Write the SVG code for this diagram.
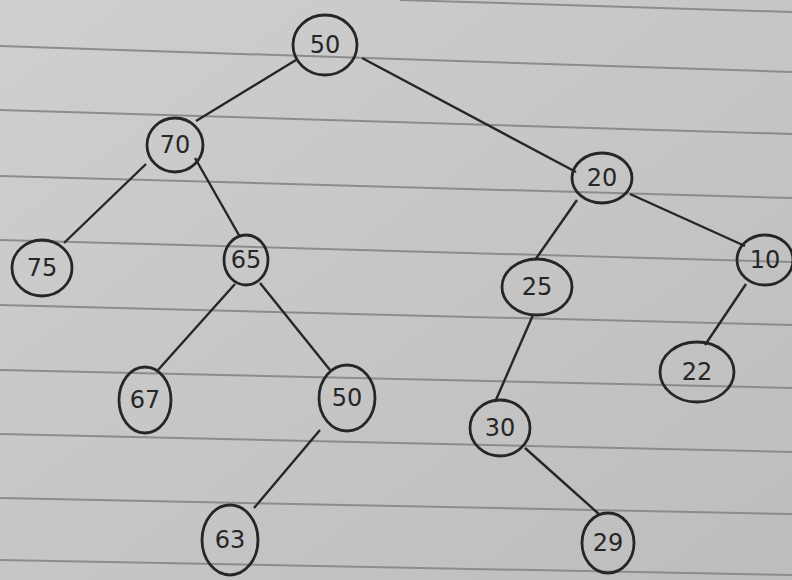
<svg xmlns="http://www.w3.org/2000/svg" width="792" height="580" viewBox="0 0 792 580">
<defs>
<linearGradient id="paper" x1="0" y1="0" x2="1" y2="1">
<stop offset="0" stop-color="#cfcfcf"/>
<stop offset="0.5" stop-color="#c6c6c6"/>
<stop offset="1" stop-color="#bdbdbd"/>
</linearGradient>
</defs>
<style>
.rule{stroke:#8c8c8c;stroke-width:2;fill:none}
.node ellipse{fill:none;stroke:#262626;stroke-width:2.8}
.node text{font-family:"DejaVu Sans",sans-serif;font-size:24px;fill:#262626;text-anchor:middle;dominant-baseline:central}
#edges line{stroke:#262626;stroke-width:2.4}
</style>
<rect width="792" height="580" fill="url(#paper)"/>
<g id="paper-lines">
<line class="rule" x1="400" y1="0" x2="792" y2="12"/>
<line class="rule" x1="0" y1="46" x2="792" y2="72"/>
<line class="rule" x1="0" y1="110" x2="792" y2="134"/>
<line class="rule" x1="0" y1="176" x2="792" y2="198"/>
<line class="rule" x1="0" y1="240" x2="792" y2="262"/>
<line class="rule" x1="0" y1="305" x2="792" y2="325"/>
<line class="rule" x1="0" y1="370" x2="792" y2="388"/>
<line class="rule" x1="0" y1="434" x2="792" y2="452"/>
<line class="rule" x1="0" y1="498" x2="792" y2="514"/>
<line class="rule" x1="0" y1="560" x2="792" y2="575"/>
</g>
<g id="edges">
<line x1="296" y1="60" x2="196" y2="121"/>
<line x1="362" y1="58" x2="576" y2="172"/>
<line x1="146" y1="164" x2="64" y2="243"/>
<line x1="195" y1="158" x2="240" y2="237"/>
<line x1="235" y1="284" x2="158" y2="370"/>
<line x1="260" y1="283" x2="330" y2="370"/>
<line x1="320" y1="430" x2="254" y2="508"/>
<line x1="577" y1="200" x2="535" y2="260"/>
<line x1="630" y1="194" x2="745" y2="246"/>
<line x1="746" y1="284" x2="705" y2="345"/>
<line x1="533" y1="315" x2="495" y2="402"/>
<line x1="525" y1="448" x2="600" y2="515"/>
</g>
<g id="n50" class="node"><ellipse cx="325" cy="45" rx="32" ry="30"/><text x="325" y="45">50</text></g>
<g id="n70" class="node"><ellipse cx="175" cy="145" rx="28" ry="27"/><text x="175" y="145">70</text></g>
<g id="n75" class="node"><ellipse cx="42" cy="268" rx="30" ry="28"/><text x="42" y="268">75</text></g>
<g id="n65" class="node"><ellipse cx="246" cy="260" rx="22" ry="25"/><text x="246" y="260">65</text></g>
<g id="n67" class="node"><ellipse cx="145" cy="400" rx="26" ry="33"/><text x="145" y="400">67</text></g>
<g id="n50b" class="node"><ellipse cx="347" cy="398" rx="28" ry="33"/><text x="347" y="398">50</text></g>
<g id="n63" class="node"><ellipse cx="230" cy="540" rx="28" ry="35"/><text x="230" y="540">63</text></g>
<g id="n20" class="node"><ellipse cx="602" cy="178" rx="30" ry="25"/><text x="602" y="178">20</text></g>
<g id="n10" class="node"><ellipse cx="765" cy="260" rx="28" ry="25"/><text x="765" y="260">10</text></g>
<g id="n25" class="node"><ellipse cx="537" cy="287" rx="35" ry="28"/><text x="537" y="287">25</text></g>
<g id="n22" class="node"><ellipse cx="697" cy="372" rx="37" ry="30"/><text x="697" y="372">22</text></g>
<g id="n30" class="node"><ellipse cx="500" cy="428" rx="30" ry="28"/><text x="500" y="428">30</text></g>
<g id="n29" class="node"><ellipse cx="608" cy="543" rx="26" ry="30"/><text x="608" y="543">29</text></g>
</svg>
